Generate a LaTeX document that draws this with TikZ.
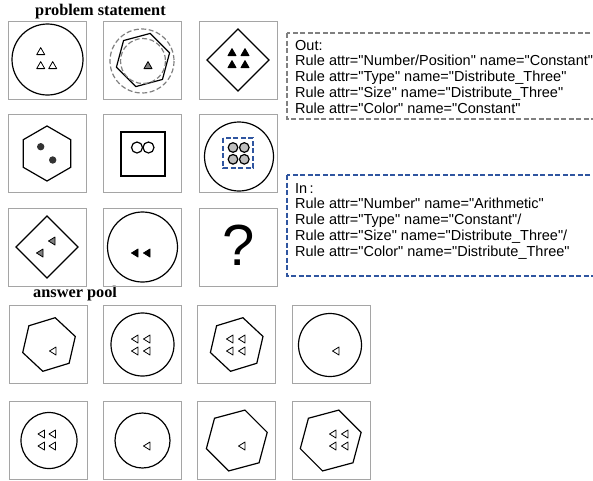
\documentclass[tikz,border=0pt]{standalone}
\usepackage{fontspec}
\setmainfont{Liberation Serif}
\newfontfamily\rulefont{Liberation Sans}

\definecolor{framegray}{RGB}{165,165,165}
\definecolor{dashgray}{RGB}{128,128,128}
\definecolor{dashblue}{RGB}{47,85,160}
\definecolor{dotgray}{RGB}{190,190,190}

\tikzset{
	panel/.style = {draw = framegray, line width = 0.8pt},
	outline/.style = {draw = black, line width = 1.2pt},
	smalltri/.style = {draw = black, line width = 0.8pt, line join = round},
	greydash/.style = {draw = dashgray, line width = 1.2pt, dash pattern = on 5pt off 2.5pt},
	bluedash/.style = {draw = dashblue, line width = 1.2pt, dash pattern = on 5pt off 2.5pt},
	heading/.style = {anchor = base west, inner sep = 0pt, font = \bfseries\fontsize{16.3}{18}\selectfont},
	ruleline/.style = {anchor = base west, inner sep = 0pt, font = \rulefont\fontsize{14.5}{16}\selectfont}
}

\newcommand{\triup}[3]{\draw[smalltri, fill = #3] (#1, #2 - 4.4) -- (#1 + 4, #2 + 2.6) -- (#1 - 4, #2 + 2.6) -- cycle;}
\newcommand{\trileft}[3]{\draw[smalltri, fill = #3] (#1 - 3.5, #2) -- (#1 + 3, #2 - 4) -- (#1 + 3, #2 + 4) -- cycle;}
\newcommand{\hexat}[4]{\draw[outline] (#1, #2) +(#4:#3) -- +(#4 + 60:#3) -- +(#4 + 120:#3) -- +(#4 + 180:#3) -- +(#4 + 240:#3) -- +(#4 + 300:#3) -- cycle;}

\begin{document}
\begin{tikzpicture}[x = 1pt, y = -1pt]
	\useasboundingbox (0, 0) rectangle (593, 480);
	\clip (0, 0) rectangle (593, 480);

	% headings
	\node[heading] (statement) at (35, 15) {problem statement};
	\node[heading] (pool) at (33, 297) {answer pool};

	% panel frames
	\foreach \x in {8, 103, 199}
	\foreach \y in {21, 114, 208}
	\draw[panel] (\x, \y) rectangle ++(78, 78);
	\foreach \x in {9, 103, 197, 292}
	\foreach \y in {305, 401}
	\draw[panel] (\x, \y) rectangle ++(78, 78);

	% row 1
	\draw[outline] (47.5, 59.5) circle (35.5);
	\foreach \x/\y in {40.7/52, 40.7/66, 52.7/66}
	{\triup{\x}{\y}{white}}

	\draw[greydash] (142, 61) circle (32);
	\hexat{143}{60}{27.5}{45}
	\draw[greydash] (143, 61) circle (22.5);
	\triup{148}{66}{gray}

	\draw[outline] (238, 29) -- (269, 60) -- (238, 91) -- (207, 60) -- cycle;
	\foreach \x/\y in {232/53, 245/53, 232/65, 245/65}
	{\triup{\x}{\y}{black}}

	% row 2
	\hexat{47}{153.5}{27.5}{30}
	\fill[black!80] (40.7, 146.7) circle (3.7);
	\fill[black!80] (52.7, 160) circle (3.7);

	\draw[outline] (121, 132) rectangle (165, 176);
	\draw[outline, fill = white] (137, 147.5) circle (5.5);
	\draw[outline, fill = white] (148.5, 147.5) circle (5.5);

	\draw[outline] (239, 156.5) circle (34.5);
	\draw[bluedash] (223, 138) rectangle (253, 168);
	\foreach \x/\y in {233/147.5, 244.3/147.5, 233/159.3, 244.3/159.3}
	\draw[outline, fill = dotgray] (\x, \y) circle (4.8);

	% row 3
	\draw[outline] (47, 216) -- (78, 247) -- (47, 278) -- (16, 247) -- cycle;
	\trileft{52}{241}{gray}
	\trileft{40}{253}{gray}

	\draw[outline] (142.5, 247) circle (35);
	\trileft{135}{253}{black}
	\trileft{147}{253}{black}

	\node[anchor = base, inner sep = 0pt, font = \rulefont\fontsize{58}{60}\selectfont] (query) at (238.5, 265) {?};

	% rule boxes
	\draw[greydash] (287, 33) rectangle (600, 119);
	\node[ruleline] (out0) at (295, 50) {Out:};
	\node[ruleline] (out1) at (295, 65.9) {Rule attr="Number/Position" name="Constant"};
	\node[ruleline] (out2) at (295, 81.8) {Rule attr="Type" name="Distribute\_Three"};
	\node[ruleline] (out3) at (295, 97.7) {Rule attr="Size" name="Distribute\_Three"};
	\node[ruleline] (out4) at (295, 113.6) {Rule attr="Color" name="Constant"};

	\draw[bluedash] (287, 175) rectangle (600, 276);
	\node[ruleline] (in0) at (295, 193) {In\,:};
	\node[ruleline] (in1) at (295, 208.9) {Rule attr="Number" name="Arithmetic"};
	\node[ruleline] (in2) at (295, 224.8) {Rule attr="Type" name="Constant"/};
	\node[ruleline] (in3) at (295, 240.7) {Rule attr="Size" name="Distribute\_Three"/};
	\node[ruleline] (in4) at (295, 256.6) {Rule attr="Color" name="Distribute\_Three"};

	% answer pool, row 1
	\hexat{49}{344.5}{27.5}{43}
	\trileft{53}{351}{white}

	\draw[outline] (142.5, 344.5) circle (31.5);
	\foreach \x/\y in {135/339, 147/339, 135/351, 147/351}
	{\trileft{\x}{\y}{white}}

	\hexat{236.7}{344.5}{27.5}{43}
	\foreach \x/\y in {230/339, 242/339, 230/351, 242/351}
	{\trileft{\x}{\y}{white}}

	\draw[outline] (330, 345) circle (31.5);
	\trileft{336}{351}{white}

	% answer pool, row 2
	\draw[outline] (49, 440.5) circle (28);
	\foreach \x/\y in {41.5/434, 52.5/434, 41.5/446, 52.5/446}
	{\trileft{\x}{\y}{white}}

	\draw[outline] (142.5, 440.5) circle (27.5);
	\trileft{147}{446}{white}

	\hexat{236.8}{440.5}{31.5}{45}
	\trileft{242}{446}{white}

	\hexat{330.7}{440.5}{31.5}{45}
	\foreach \x/\y in {333/434, 345/434, 333/446, 345/446}
	{\trileft{\x}{\y}{white}}
\end{tikzpicture}
\end{document}
